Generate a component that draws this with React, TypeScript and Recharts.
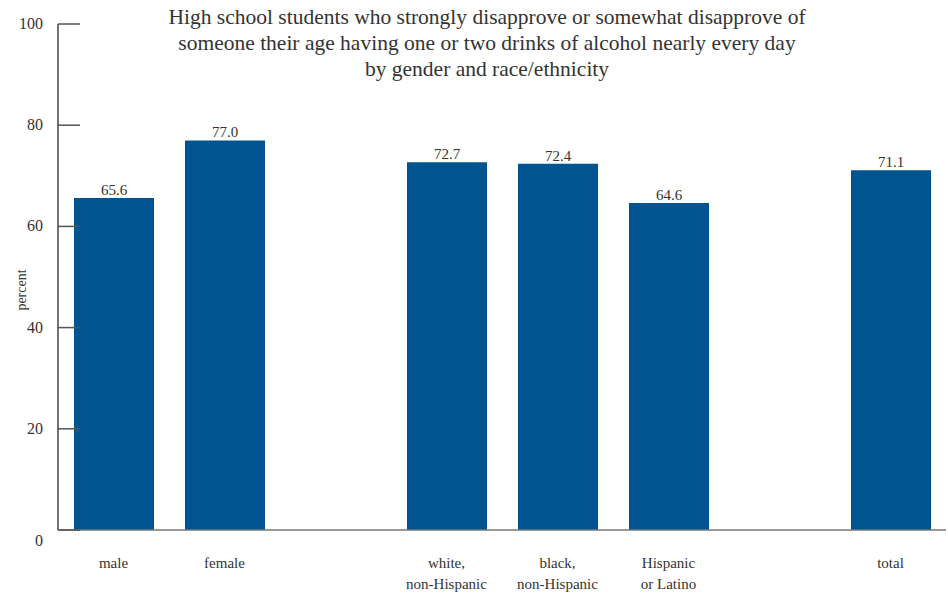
import { Bar, BarChart, LabelList, XAxis, YAxis } from "recharts";

const categories = ["male", "female", "gap1", "white", "black", "hispanic", "gap2", "total"];
const tickLabels: string[][] = [
  ["male"],
  ["female"],
  [],
  ["white,", "non-Hispanic"],
  ["black,", "non-Hispanic"],
  ["Hispanic", "or Latino"],
  [],
  ["total"],
];
const values: (number | null)[] = [65.6, 77.0, null, 72.7, 72.4, 64.6, null, 71.1];
const yTicks = [0, 20, 40, 60, 80, 100];
const titleLines = [
  "High school students who strongly disapprove or somewhat disapprove of",
  "someone their age having one or two drinks of alcohol nearly every day",
  "by gender and race/ethnicity",
];

const data = categories.map((c, i) => ({ key: c, value: values[i] }));

const FONT = '"Liberation Serif", "Times New Roman", Times, serif';
const TEXT = "#333";

function YTick(props: any) {
  const { x, y, payload } = props;
  const dy = payload.value === 0 ? 16 : 5;
  return (
    <g>
      <line x1={x} x2={x + 22} y1={y} y2={y} stroke="#555" strokeWidth={1.5} />
      <text x={x - 15} y={y + dy} textAnchor="end" fontSize={16} fill={TEXT} style={{ fontFamily: FONT }}>
        {payload.value}
      </text>
    </g>
  );
}

function XTick(props: any) {
  const { x, y, index } = props;
  const lines = tickLabels[index] ?? [];
  return (
    <text x={x} y={y} textAnchor="middle" fontSize={15} fill={TEXT} style={{ fontFamily: FONT }}>
      {lines.map((l, i) => (
        <tspan key={i} x={x} dy={i === 0 ? 30 : 21}>
          {l}
        </tspan>
      ))}
    </text>
  );
}

export default function App() {
  return (
    <div style={{ position: "relative", width: 948, height: 596, background: "#fff", fontFamily: FONT }}>
      <style>{"body{margin:0}"}</style>
      <BarChart
        width={948}
        height={596}
        data={data}
        margin={{ top: 24, right: 2, left: 0, bottom: 0 }}
        style={{ fontFamily: FONT }}
      >
        <XAxis
          dataKey="key"
          height={66}
          interval={0}
          tickLine={false}
          axisLine={{ stroke: "#777", strokeWidth: 1.5 }}
          tick={<XTick />}
        />
        <YAxis
          width={58}
          domain={[0, 100]}
          ticks={yTicks}
          tickSize={0}
          tickMargin={0}
          tickLine={false}
          axisLine={{ stroke: "#444", strokeWidth: 1.5 }}
          tick={<YTick />}
        />
        <Bar dataKey="value" fill="#005591" barSize={80} isAnimationActive={false}>
          <LabelList
            dataKey="value"
            position="top"
            offset={3}
            formatter={(v: any) => (v == null ? "" : Number(v).toFixed(1))}
            style={{ fontSize: 15, fill: TEXT, fontFamily: FONT }}
          />
        </Bar>
      </BarChart>
      <div
        style={{
          position: "absolute",
          left: 87,
          width: 800,
          top: 4,
          textAlign: "center",
          fontFamily: FONT,
          fontSize: 21.5,
          lineHeight: "26px",
          color: TEXT,
          whiteSpace: "nowrap",
        }}
      >
        {titleLines.map((l, i) => (
          <div key={i}>{l}</div>
        ))}
      </div>
      <div
        style={{
          position: "absolute",
          left: 22,
          top: 290,
          transform: "translate(-50%, -50%) rotate(-90deg)",
          fontFamily: FONT,
          fontSize: 14,
          color: TEXT,
        }}
      >
        percent
      </div>
    </div>
  );
}
